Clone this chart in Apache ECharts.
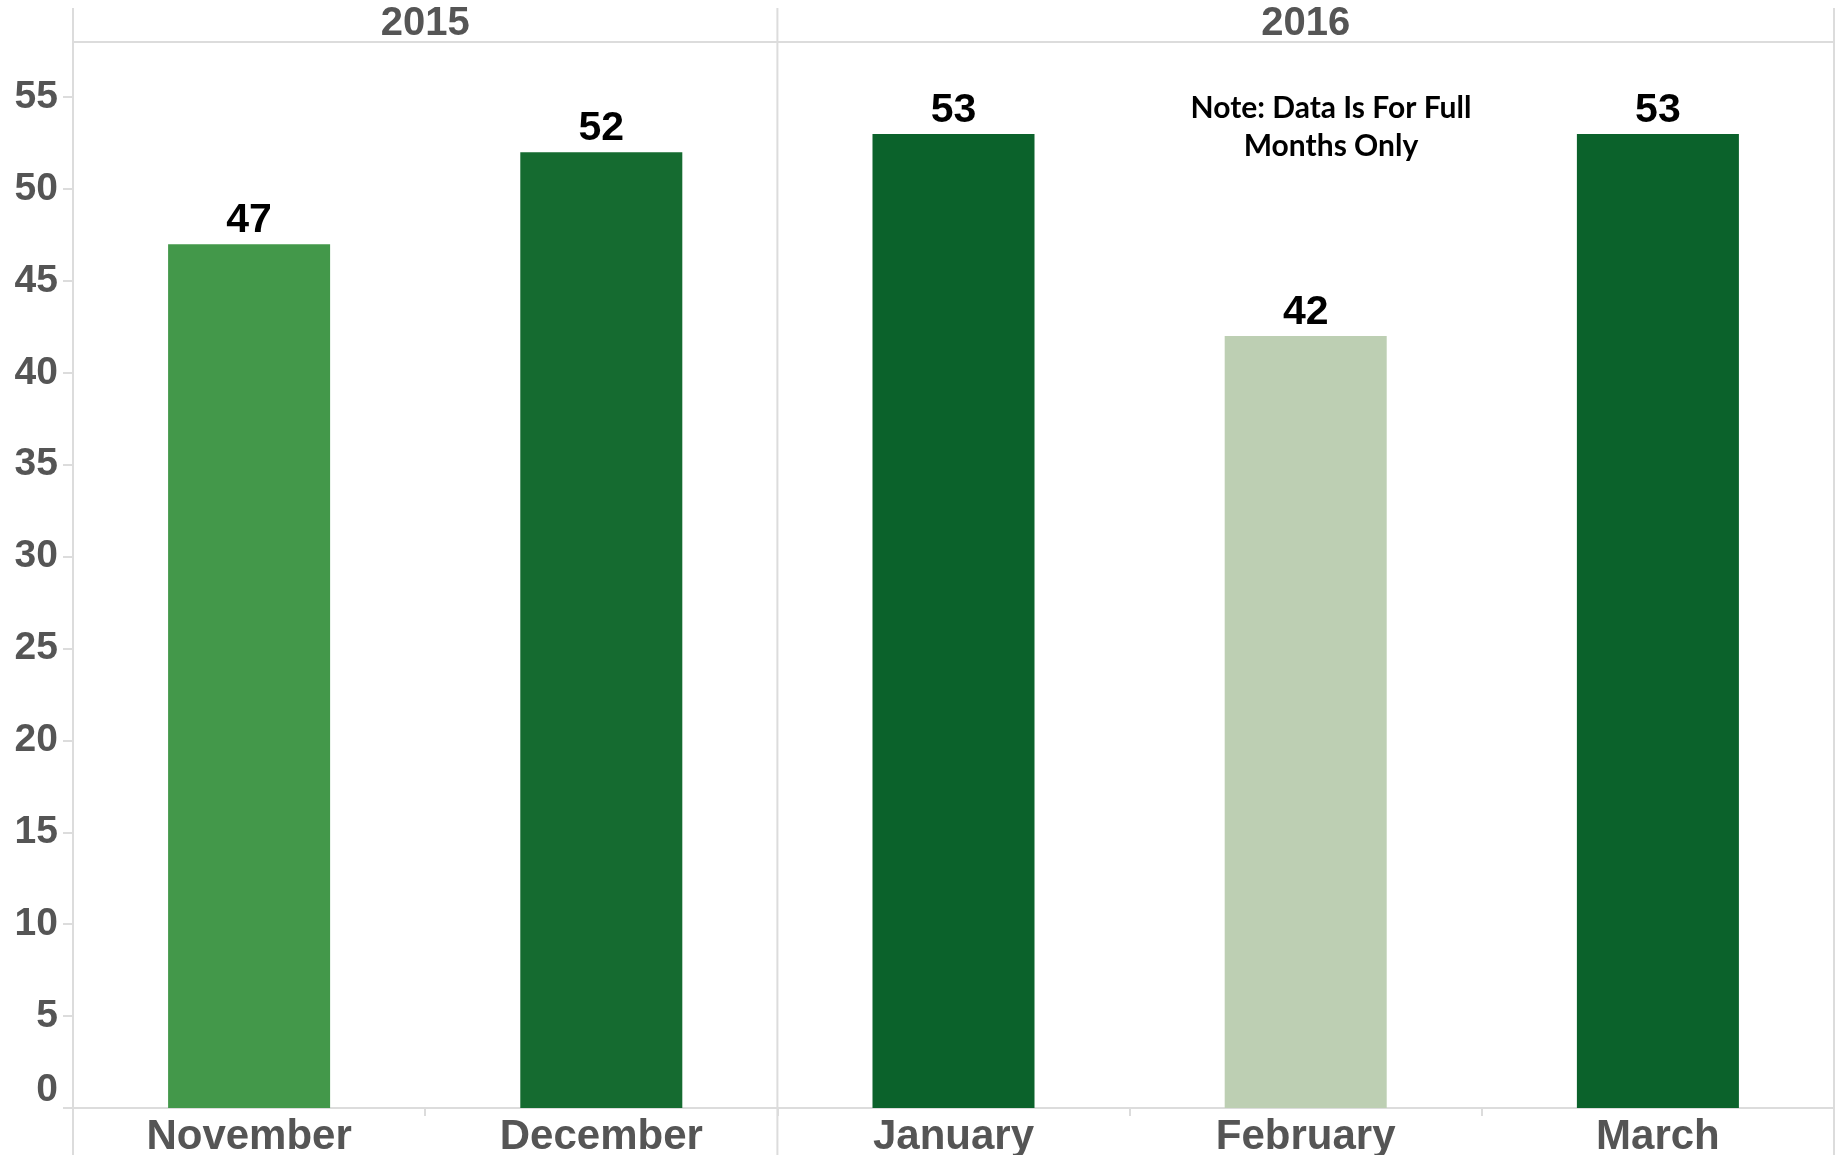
<!DOCTYPE html>
<html>
<head>
<meta charset="utf-8">
<script src="https://cdn.jsdelivr.net/npm/echarts@6/dist/echarts.min.js"></script>
<style>
  html, body { margin: 0; padding: 0; background: #ffffff; }
  #chart { width: 1841px; height: 1155px; }
</style>
</head>
<body>
<div id="chart"></div>
<script>
// Monthly counts, Nov 2015 – Mar 2016
const months = ['November', 'December', 'January', 'February', 'March'];
const values = [47, 52, 53, 42, 53];
const barColors = ['#43984a', '#156b30', '#0b622b', '#bdcfb3', '#0b622b'];

// Year headers and how many months fall under each
const years = ['2015', '2016'];
const yearSpans = [2, 3];

// Value axis
const yTicks = [0, 5, 10, 15, 20, 25, 30, 35, 40, 45, 50, 55];
const yMax = 58;

const noteLines = ['Note: Data Is For Full', 'Months Only'];

const FRAME = '#dcdcdc';
const TEXT = '#555555';
const SANS = '"Liberation Sans", Arial, sans-serif';

const chart = echarts.init(document.getElementById('chart'), null, { renderer: 'canvas' });

chart.setOption({
  animation: false,
  backgroundColor: '#ffffff',
  grid: { left: 73, right: 7, top: 42, bottom: 47, containLabel: false, outerBoundsMode: 'none' },
  xAxis: {
    type: 'category',
    data: months,
    axisLine: { show: false },
    axisTick: { show: true, length: 8, lineStyle: { color: FRAME, width: 2 } },
    axisLabel: {
      margin: 8,
      fontFamily: SANS,
      fontWeight: 'bold',
      fontSize: 42,
      color: TEXT
    }
  },
  yAxis: {
    type: 'value',
    min: 0,
    max: yMax,
    interval: 5,
    axisLine: { show: false },
    splitLine: { show: false },
    axisTick: {
      show: true,
      length: 10,
      customValues: yTicks,
      lineStyle: { color: FRAME, width: 2 }
    },
    axisLabel: {
      customValues: yTicks,
      margin: 15,
      fontFamily: SANS,
      fontWeight: 'bold',
      fontSize: 39,
      color: TEXT,
      formatter: v => (v === 0 ? '{zero|0}' : String(v)),
      rich: {
        zero: {
          fontFamily: SANS,
          fontWeight: 'bold',
          fontSize: 39,
          color: TEXT,
          padding: [0, 0, 36, 0]
        }
      }
    }
  },
  series: [{
    type: 'bar',
    barWidth: '46%',
    data: values.map((v, i) => ({ value: v, itemStyle: { color: barColors[i] } })),
    label: {
      show: true,
      position: 'top',
      distance: 3,
      fontFamily: SANS,
      fontWeight: 'bold',
      fontSize: 41,
      color: '#000000'
    }
  }]
});

// Frame lines, year headers and note, positioned from the axes
const toPx = (i, v) => chart.convertToPixel({ gridIndex: 0 }, [i, v]);
const band = toPx(1, 0)[0] - toPx(0, 0)[0];
const edgeX = k => toPx(0, 0)[0] - band / 2 + k * band;   // boundary before month k
const yZero = toPx(0, 0)[1];
const yTop = toPx(0, yMax)[1];
const frameTop = 8;
const frameBottom = 1155;

const graphics = [];
const line = (x1, y1, x2, y2) => ({
  type: 'line',
  silent: true,
  shape: { x1, y1, x2, y2 },
  style: { stroke: FRAME, lineWidth: 2 }
});

// year dividers and outer edges
const boundaries = [0];
yearSpans.reduce((acc, n) => { boundaries.push(acc + n); return acc + n; }, 0);
boundaries.forEach(k => graphics.push(line(edgeX(k), frameTop, edgeX(k), frameBottom)));

// header rule and baseline
graphics.push(line(edgeX(0), yTop, edgeX(months.length), yTop));
graphics.push(line(edgeX(0) - 10, yZero, edgeX(months.length), yZero));

// year headers
let start = 0;
years.forEach((yr, j) => {
  const cx = (edgeX(start) + edgeX(start + yearSpans[j])) / 2;
  graphics.push({
    type: 'text',
    silent: true,
    x: cx,
    y: (frameTop + yTop) / 2 - 1,
    style: {
      text: yr,
      fontFamily: SANS,
      fontWeight: 'bold',
      fontSize: 40,
      fill: TEXT,
      align: 'center',
      verticalAlign: 'middle'
    }
  });
  start += yearSpans[j];
});

// note
graphics.push({
  type: 'text',
  silent: true,
  x: 1331,
  y: 127,
  style: {
    text: noteLines.join('\n'),
    fontFamily: 'Lato, "Open Sans", sans-serif',
    fontWeight: 'bold',
    fontSize: 30,
    lineHeight: 38,
    fill: '#000000',
    align: 'center',
    verticalAlign: 'middle'
  }
});

chart.setOption({ graphic: graphics });
</script>
</body>
</html>
